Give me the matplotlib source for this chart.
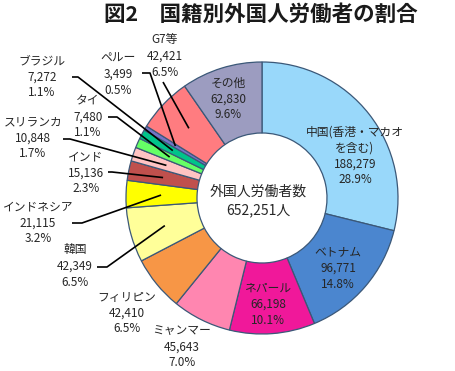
import numpy as np
import matplotlib.pyplot as plt

plt.rcParams['font.family'] = ['Noto Sans CJK JP', 'DejaVu Sans']

# data, clockwise from 12 o'clock
names = ['中国(香港・マカオ\nを含む)', 'ベトナム', 'ネパール', 'ミャンマー', 'フィリピン', '韓国',
         'インドネシア', 'インド', 'スリランカ', 'タイ', 'ブラジル', 'ペルー', 'G7等', 'その他']
counts = [188279, 96771, 66198, 45643, 42410, 42349,
          21115, 15136, 10848, 7480, 7272, 3499, 42421, 62830]
shares = ['28.9%', '14.8%', '10.1%', '7.0%', '6.5%', '6.5%',
          '3.2%', '2.3%', '1.7%', '1.1%', '1.1%', '0.5%', '6.5%', '9.6%']
colors = ['#99d8fa', '#4b86cf', '#f0189a', '#ff86b0', '#f79646', '#ffff99',
          '#ffff00', '#c0504d', '#ffc3c3', '#66ff66', '#00c48a', '#7474c8', '#ff7c80', '#9c9cc0']
total = sum(counts)

W, H = 456, 371
CX, CY, R = 262, 198, 136  # pixel coords (y down)


def px(x, y):
    return x, H - y


fig = plt.figure(figsize=(W / 100, H / 100), dpi=100)
ax = fig.add_axes([0, 0, 1, 1])

ax.pie(counts, radius=R, center=px(CX, CY), startangle=90, counterclock=False,
       colors=colors,
       wedgeprops=dict(width=71, edgecolor='#3b5878', linewidth=0.9))
ax.set_xlim(0, W)
ax.set_ylim(0, H)
ax.set_aspect('equal')
ax.axis('off')

# label block centres (pixel)
label_pos = {
    0: (355, 132), 1: (338, 252), 2: (268, 288), 3: (182, 331), 4: (127, 297),
    5: (75, 250), 6: (38, 207), 7: (86, 157), 8: (33, 122), 9: (88, 101),
    10: (42, 61), 11: (118, 58), 12: (165, 40), 13: (228, 83),
}
# leader start and knee (pixel)
leaders = {
    5: [(97, 267), (107, 267)],
    6: [(72, 223), (82, 223)],
    7: [(108, 172), (112, 172)],
    8: [(63, 139), (70, 139)],
    9: [(108, 117), (117, 117)],
    10: [(72, 77), (78, 77)],
    11: [(142, 73), (150, 73)],
    12: [(163, 82)],
}

fs = 8.5
lh = 16
for i, name in enumerate(names):
    x, y = label_pos[i]
    lines = name.split('\n') + [f'{counts[i]:,}', shares[i]]
    for k, t in enumerate(lines):
        ax.text(*px(x, y + k * lh), t, ha='center', va='center',
                fontsize=fs, color='#262626')

# leader lines end at the middle of the ring, at the wedge's mid angle
cum = np.cumsum([0] + counts)
for i, pts in leaders.items():
    mid = (cum[i] + cum[i + 1]) / 2 / total
    ang = np.deg2rad(90 - mid * 360)
    r_end = 101
    ex = CX + r_end * np.cos(ang)
    ey = CY - r_end * np.sin(ang)
    xs = [p[0] for p in pts] + [ex]
    ys = [H - p[1] for p in pts] + [H - ey]
    ax.plot(xs, ys, color='black', linewidth=1.2, solid_capstyle='butt')

# centre text
ax.text(*px(258, 192), '外国人労働者数', ha='center', va='center', fontsize=10, color='#262626')
ax.text(*px(258, 210), f'{total:,}人', ha='center', va='center', fontsize=10, color='#262626')

# title
ax.text(*px(261, 14), '図2　国籍別外国人労働者の割合', ha='center', va='center',
        fontsize=15.5, fontweight='bold', color='#1a1a1a')

fig.savefig('out.png', dpi=100)
